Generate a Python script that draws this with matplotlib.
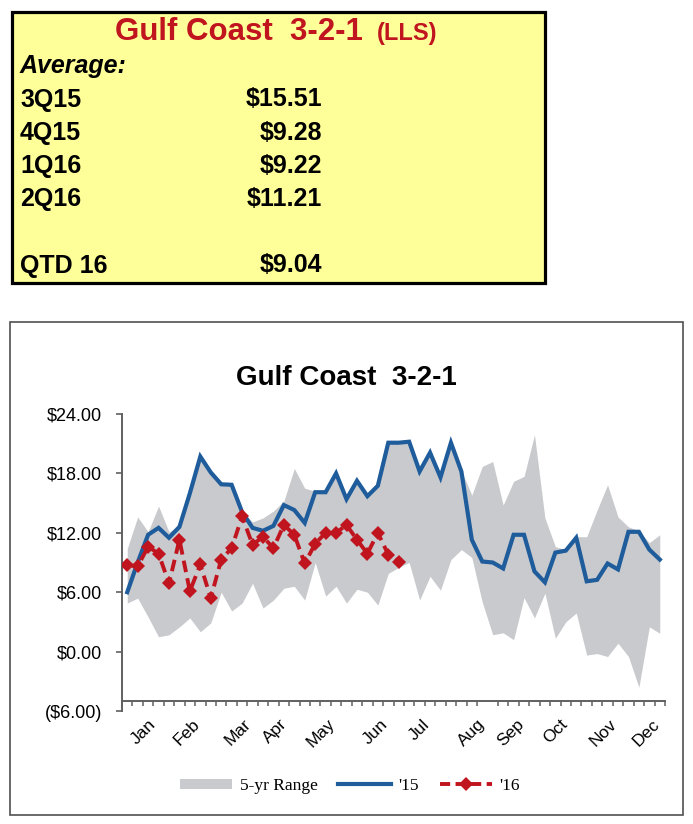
import matplotlib
matplotlib.use("Agg")
import matplotlib.pyplot as plt
from matplotlib.patches import Rectangle, Patch
from matplotlib.lines import Line2D

# weekly Gulf Coast 3-2-1 crack ($/bbl)
weeks = list(range(52))
gc_2015 = [6.0, 9.0, 11.8, 12.5, 11.5, 12.6, 16.0, 19.7, 18.1, 16.9, 16.85, 14.1, 12.5,
           12.2, 12.7, 14.8, 14.3, 13.0, 16.1, 16.1, 18.0, 15.4, 17.25, 15.7, 16.75, 21.1,
           21.1, 21.2, 18.2, 20.1, 17.6, 21.1, 18.2, 11.3, 9.1, 9.0, 8.4, 11.8, 11.8, 8.1,
           7.0, 10.0, 10.2, 11.5, 7.1, 7.25, 8.9, 8.3, 12.1, 12.1, 10.3, 9.3]
gc_2016 = [8.76, 8.6, 10.6, 9.9, 6.9, 11.3, 6.1, 8.8, 5.4, 9.3, 10.45, 13.65, 10.8, 11.6,
           10.45, 12.8, 11.8, 8.9, 10.9, 12.0, 12.0, 12.8, 11.3, 9.9, 12.0, 9.8, 9.1]
range_hi = [10.4, 13.6, 12.1, 14.7, 12.1, 12.7, 16.1, 19.8, 18.2, 17.0, 16.9, 14.2, 13.1,
            13.5, 14.2, 15.2, 18.5, 16.5, 16.2, 16.2, 18.1, 15.5, 17.3, 15.8, 16.8, 21.2,
            21.2, 21.3, 18.3, 20.2, 17.7, 21.2, 18.3, 15.8, 18.7, 19.2, 14.8, 17.2, 17.7,
            21.9, 13.5, 10.6, 10.3, 11.6, 11.6, 14.3, 16.85, 13.6, 12.6, 12.2, 11.0, 11.8]
range_lo = [4.9, 5.4, 3.5, 1.5, 1.7, 2.5, 3.4, 2.0, 2.9, 6.0, 4.1, 4.9, 6.9, 4.4, 5.2,
            6.4, 6.6, 5.2, 9.0, 5.6, 6.6, 4.9, 6.3, 6.0, 4.7, 7.9, 8.5, 9.0, 5.2, 7.6, 6.2,
            9.3, 10.3, 9.5, 5.0, 1.7, 1.9, 1.2, 5.45, 3.4, 5.9, 1.35, 3.0, 3.9, -0.35, -0.2,
            -0.5, 0.85, -0.5, -3.6, 2.5, 1.85]
month_pos = [3, 7.2, 12.1, 15.6, 20.2, 25.2, 29.2, 34.5, 38.3, 42.4, 47.2, 51.3]
month_labels = ["Jan", "Feb", "Mar", "Apr", "May", "Jun", "Jul", "Aug", "Sep", "Oct", "Nov", "Dec"]
y_ticks = [-6, 0, 6, 12, 18, 24]
y_labels = ["($6.00)", "$0.00", "$6.00", "$12.00", "$18.00", "$24.00"]

quarters = ["3Q15", "4Q15", "1Q16", "2Q16", "QTD 16"]
quarter_avgs = ["$15.51", "$9.28", "$9.22", "$11.21", "$9.04"]
quarter_rows = [0, 1, 2, 3, 5]

BLUE = "#1F5C9B"
RED = "#C0141E"
GRAY = "#C9CACD"
SANS = "Liberation Sans"
SERIF = "Liberation Serif"

W, H = 693, 824
fig = plt.figure(figsize=(W / 100, H / 100), dpi=100)


def fx(x):
    return x / W


def fy(y):
    return 1 - y / H


# yellow summary box
fig.add_artist(Rectangle((fx(12), fy(283)), fx(533), 271 / H, transform=fig.transFigure,
                         facecolor="#FFFF99", edgecolor="black", lw=2.3, zorder=-2))
fig.text(fx(363), fy(40), "Gulf Coast  3-2-1", color=RED, fontsize=22.5, fontweight="bold",
         family=SANS, ha="right", va="baseline")
fig.text(fx(377), fy(40), "(LLS)", color=RED, fontsize=17, fontweight="bold",
         family=SANS, ha="left", va="baseline")
fig.text(fx(20), fy(72.5), "Average:", fontsize=18, fontweight="bold", style="italic",
         family=SANS, va="baseline")
for name, val, row in zip(quarters, quarter_avgs, quarter_rows):
    yb = 106.5 + row * 33.2
    fig.text(fx(20), fy(yb), name, fontsize=18, fontweight="bold", family=SANS, va="baseline")
    fig.text(fx(322), fy(yb), val, fontsize=18, fontweight="bold", family=SANS,
             ha="right", va="baseline")

# chart frame
fig.add_artist(Rectangle((fx(10), fy(815)), fx(673), 493 / H, transform=fig.transFigure,
                         facecolor="white", edgecolor="#505050", lw=1.2, zorder=-2))
fig.text(fx(346), fy(385.5), "Gulf Coast  3-2-1", fontsize=20, fontweight="bold",
         family=SANS, ha="center", va="baseline")

ax = fig.add_axes([fx(122), fy(711), 543 / W, 297 / H])
ax.patch.set_alpha(0)
ax.fill_between(weeks, range_lo, range_hi, color=GRAY, lw=0, zorder=1)
ax.plot(weeks, gc_2015, color=BLUE, lw=3.0, solid_joinstyle="miter", zorder=3)
ax.plot(weeks[:len(gc_2016)], gc_2016, color=RED, lw=2.8, dashes=(3.0, 1.6),
        marker="D", markersize=7.5, markeredgewidth=0, zorder=4)

ax.set_xlim(-0.5, 51.5)
ax.set_ylim(-6, 24)
for s in ["top", "right"]:
    ax.spines[s].set_visible(False)
ax.spines["bottom"].set_position(("data", -5))
for s in ["bottom", "left"]:
    ax.spines[s].set_color("#606060")
    ax.spines[s].set_linewidth(1.4)

ax.set_yticks(y_ticks)
ax.set_yticklabels(y_labels, family=SANS, fontsize=13)
ax.tick_params(axis="y", direction="out", length=4.5, width=1.2, color="#606060", pad=10)

ax.set_xticks(month_pos)
ax.set_xticklabels(month_labels, rotation=45, ha="right", va="top", family=SANS, fontsize=12.5)
ax.set_xticks([w - 0.5 for w in weeks] + [51.5], minor=True)
ax.tick_params(axis="x", which="major", length=0, pad=11)
ax.tick_params(axis="x", which="minor", direction="out", length=3.8, width=1.1, color="#606060")

handles = [
    Patch(facecolor=GRAY, edgecolor="none"),
    Line2D([], [], color=BLUE, lw=3.0),
    Line2D([], [], color=RED, lw=2.8, dashes=(2.6, 1.4), marker="D", markersize=7.5,
           markeredgewidth=0),
]
fig.legend(handles, ["5-yr Range", "'15", "'16"], loc="center", ncol=3,
           bbox_to_anchor=(fx(350), fy(786)), frameon=False, numpoints=1,
           prop={"family": SERIF, "size": 12.5}, handlelength=3.0,
           handleheight=0.5, handletextpad=0.45, columnspacing=1.2)

fig.savefig("out.png", dpi=100)
